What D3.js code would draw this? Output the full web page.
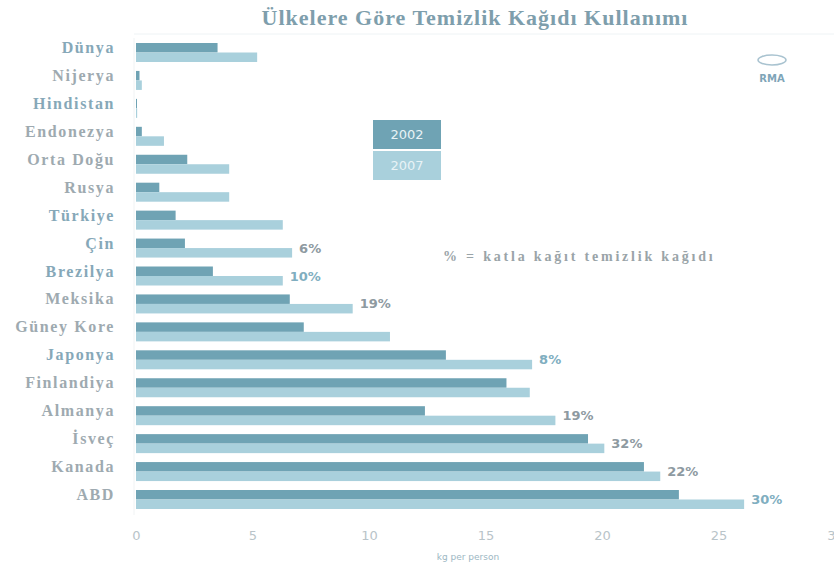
<!DOCTYPE html>
<html>
<head>
<meta charset="utf-8">
<script src="https://cdn.jsdelivr.net/npm/d3@7"></script>
<style>
  body { margin: 0; background: #fff; }
  svg { display: block; }
</style>
</head>
<body>
<script>
// data (kg per person)
const countries = ["Dünya", "Nijerya", "Hindistan", "Endonezya", "Orta Doğu", "Rusya", "Türkiye", "Çin",
  "Brezilya", "Meksika", "Güney Kore", "Japonya", "Finlandiya", "Almanya", "İsveç", "Kanada", "ABD"];
const years = ["2002", "2007"];
const values2002 = [3.5, 0.15, 0.02, 0.25, 2.2, 1.0, 1.7, 2.1, 3.3, 6.6, 7.2, 13.3, 15.9, 12.4, 19.4, 21.8, 23.3];
const values2007 = [5.2, 0.25, 0.05, 1.2, 4.0, 4.0, 6.3, 6.7, 6.3, 9.3, 10.9, 17.0, 16.9, 18.0, 20.1, 22.5, 26.1];
const pctLabels = ["", "", "", "", "", "", "", "6%", "10%", "19%", "", "8%", "", "19%", "32%", "22%", "30%"];
const xTicks = [0, 5, 10, 15, 20, 25, 30];
const boldBlue = ["Dünya", "Hindistan", "Türkiye", "Çin", "Brezilya", "Japonya"];

const width = 834, height = 574;
const colors = {"2002": "#6fa3b4", "2007": "#a9d0dc"};

const svg = d3.select("body").append("svg")
    .attr("width", width)
    .attr("height", height)
    .style("font-family", "'Liberation Serif', 'DejaVu Serif', serif");

const x = d3.scaleLinear().domain([0, 30]).range([136, 835]);
const y = d3.scaleBand().domain(countries).range([43, 509]).paddingInner(0.32).paddingOuter(0);
const ySub = d3.scaleBand().domain(years).range([0, y.bandwidth()]).padding(0);

const rows = countries.map((c, i) => ({country: c, "2002": values2002[i], "2007": values2007[i], pct: pctLabels[i]}));

// title
svg.append("text")
    .attr("x", 475).attr("y", 25)
    .attr("text-anchor", "middle")
    .attr("font-size", 22).attr("font-weight", 700)
    .attr("letter-spacing", 1)
    .attr("fill", "#7e9eac")
    .text("Ülkelere Göre Temizlik Kağıdı Kullanımı");

svg.append("line")
    .attr("x1", 134).attr("x2", 834).attr("y1", 34).attr("y2", 34)
    .attr("stroke", "#eef3f5");

// faint left axis line
svg.append("line")
    .attr("x1", 134).attr("x2", 134).attr("y1", 38).attr("y2", 515)
    .attr("stroke", "#f0f3f4");

const g = svg.append("g")
  .selectAll("g")
  .data(rows)
  .join("g")
    .attr("transform", d => `translate(0,${y(d.country)})`);

g.selectAll("rect")
  .data(d => years.map(k => ({key: k, value: d[k]})))
  .join("rect")
    .attr("x", x(0))
    .attr("y", d => ySub(d.key))
    .attr("width", d => Math.max(1, x(d.value) - x(0)))
    .attr("height", ySub.bandwidth())
    .attr("fill", d => colors[d.key]);

// country labels
g.append("text")
    .attr("x", 115)
    .attr("y", 10)
    .attr("text-anchor", "end")
    .attr("font-size", 16)
    .attr("font-weight", 700)
    .attr("fill", d => boldBlue.includes(d.country) ? "#86a8b8" : "#9eaab0")
    .attr("letter-spacing", 1.6)
    .text(d => d.country);

// percentage labels
g.filter(d => d.pct)
  .append("text")
    .attr("x", d => x(Math.max(d["2002"], d["2007"])) + 7)
    .attr("y", 14)
    .attr("font-size", 13)
    .attr("font-weight", 700)
    .attr("font-family", "'DejaVu Sans', sans-serif")
    .attr("fill", d => ["10%", "8%", "30%"].includes(d.pct) ? "#80aec0" : "#8e9aa1")
    .text(d => d.pct);

// x axis
const xAxis = svg.append("g")
    .attr("transform", "translate(0,522)")
    .call(d3.axisBottom(x).tickValues(xTicks).tickSize(0).tickPadding(9));
xAxis.select(".domain").remove();
xAxis.selectAll("text")
    .attr("font-size", 13)
    .attr("font-family", "'DejaVu Sans', sans-serif")
    .attr("fill", "#b9c4c9");

svg.append("text")
    .attr("x", 468).attr("y", 560)
    .attr("text-anchor", "middle")
    .attr("font-size", 9)
    .attr("font-family", "'DejaVu Sans', sans-serif")
    .attr("fill", "#9cb7c3")
    .text("kg per person");

// legend
const legend = svg.append("g").attr("transform", "translate(373,120)");
years.forEach((k, i) => {
  legend.append("rect")
      .attr("x", 0).attr("y", i * 31)
      .attr("width", 68).attr("height", 29)
      .attr("fill", colors[k]);
  legend.append("text")
      .attr("x", 34).attr("y", i * 31 + 19)
      .attr("text-anchor", "middle")
      .attr("font-size", 13)
      .attr("font-family", "'DejaVu Sans', sans-serif")
      .attr("fill", "#e8f3f6")
      .text(k);
});

// note
svg.append("text")
    .attr("x", 443).attr("y", 261)
    .attr("font-size", 14)
    .attr("font-weight", 700)
    .attr("fill", "#9aa4a8")
    .attr("letter-spacing", 2.8)
    .text("% = katla kağıt temizlik kağıdı");

// logo
svg.append("ellipse")
    .attr("cx", 772).attr("cy", 60).attr("rx", 14).attr("ry", 5)
    .attr("fill", "none").attr("stroke", "#a9c3d0").attr("stroke-width", 1.5);
svg.append("text")
    .attr("x", 772).attr("y", 82)
    .attr("text-anchor", "middle")
    .attr("font-size", 10).attr("font-weight", 700)
    .attr("font-family", "'DejaVu Sans', sans-serif")
    .attr("fill", "#7fa5b8")
    .text("RMA");
</script>
</body>
</html>
